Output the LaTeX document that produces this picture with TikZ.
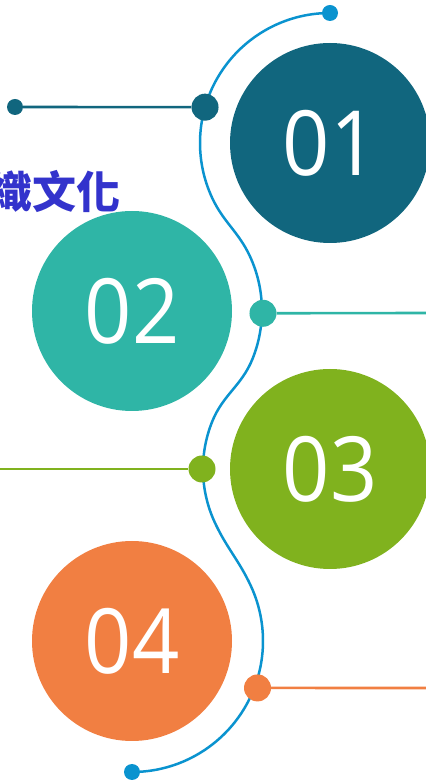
\documentclass[tikz,border=0pt]{standalone}
\usepackage{fontspec}
\setmainfont{Open Sans}
\newfontfamily\cjk{Noto Sans CJK TC}
\usetikzlibrary{calc}
\definecolor{cone}{HTML}{11667E}
\definecolor{ctwo}{HTML}{2FB5A6}
\definecolor{cthree}{HTML}{80B21E}
\definecolor{cfour}{HTML}{F17F42}
\definecolor{cblue}{HTML}{0A93CF}
\definecolor{ctext}{HTML}{3333CC}
\tikzset{
  bigdisc/.style={circle, minimum size=200pt, inner sep=0pt, text=white,
    font=\fontsize{90}{90}\selectfont},
  dotnode/.style={circle, minimum size=27pt, inner sep=0pt},
  smalldot/.style={circle, minimum size=16pt, inner sep=0pt},
  hline/.style={line width=2.6pt},
  curve/.style={line width=2.5pt, cblue},
}
\begin{document}
\begin{tikzpicture}[x=1pt,y=1pt]
\useasboundingbox (0,0) rectangle (426,780);
\clip (0,0) rectangle (426,780);
% big discs
\node[bigdisc, fill=cone] (n1) at (330,637) {\scalebox{0.92}[1]{01}};
\node[bigdisc, fill=ctwo] (n2) at (132,469) {\scalebox{0.92}[1]{02}};
\node[bigdisc, fill=cthree] (n3) at (330,311) {\scalebox{0.92}[1]{03}};
\node[bigdisc, fill=cfour] (n4) at (132,139) {\scalebox{0.92}[1]{04}};
% curve
\draw[curve] ($(n1.center)+(90:130)$) coordinate (top)
  arc[start angle=90,end angle=205,radius=130]
  to[out=-65,in=115] ($(n2.center)+(25:130)$) arc[start angle=25,end angle=-22,radius=129]
  to[out=-112,in=68] ($(n3.center)+(158:127)$) arc[start angle=158,end angle=205,radius=127]
  to[out=-65,in=115] ($(n4.center)+(25:131)$) arc[start angle=25,end angle=-90,radius=131]
  coordinate (bot);
\node[smalldot, fill=cblue] (tdot) at (top) {};
\node[smalldot, fill=cblue] (bdot) at (bot) {};
% dots on curve
\node[dotnode, fill=cone] (d1) at ($(n1.center)+(164:130)$) {};
\node[dotnode, fill=ctwo] (d2) at ($(n2.center)+(-1:131)$) {};
\node[dotnode, fill=cthree] (d3) at ($(n3.center)+(180:128)$) {};
\node[dotnode, fill=cfour] (d4) at ($(n4.center)+(-20.5:134)$) {};
% horizontal lines
\node[smalldot, fill=cone] (e1) at (15,673) {};
\coordinate (r2) at (426,467);
\coordinate (l3) at (0,311);
\coordinate (r4) at (426,92);
\draw[hline, cone] (e1) -- (d1);
\draw[hline, ctwo] (d2) -- (r2);
\draw[hline, cthree] (l3) -- (d3);
\draw[hline, cfour] (d4) -- (r4);
% text
\node[anchor=east, inner sep=0pt, text=ctext, font=\cjk\bfseries\fontsize{44}{44}\selectfont] (title) at (121,589) {織文化};
\end{tikzpicture}
\end{document}
